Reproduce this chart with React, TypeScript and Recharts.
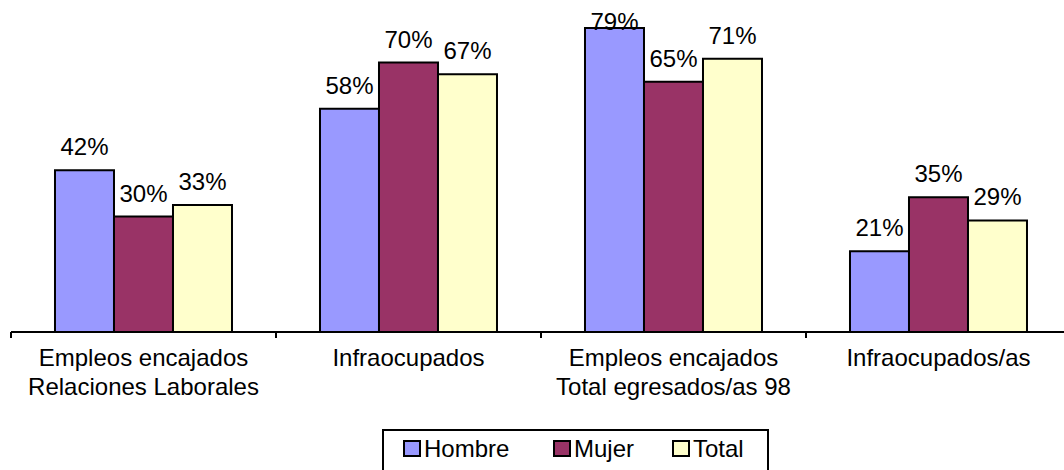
import React from "react";
import { BarChart, Bar, XAxis, YAxis } from "recharts";

const categories = [
  "Empleos encajados\nRelaciones Laborales",
  "Infraocupados",
  "Empleos encajados\nTotal egresados/as 98",
  "Infraocupados/as",
];
const seriesNames = ["Hombre", "Mujer", "Total"];
const hombre = [42, 58, 79, 21];
const mujer = [30, 70, 65, 35];
const total = [33, 67, 71, 29];

const COLORS = ["#9999FF", "#993366", "#FFFFCC"];
const FONT = "'Liberation Sans', Arial, Helvetica, sans-serif";

const data = categories.map((c, i) => ({
  category: c,
  Hombre: hombre[i],
  Mujer: mujer[i],
  Total: total[i],
}));

const CategoryTick = (props: any) => {
  const { x, y, payload, index } = props;
  const half = payload && typeof payload.offset === "number" && payload.offset > 0 ? payload.offset : 132.5;
  const lines = String(payload.value).split("\n");
  return (
    <g>
      <line x1={x - half} y1={y} x2={x - half} y2={y + 6} stroke="#000" strokeWidth={2} />
      {index === categories.length - 1 && (
        <line x1={x + half} y1={y} x2={x + half} y2={y + 6} stroke="#000" strokeWidth={2} />
      )}
      <text x={x} y={y + 34} textAnchor="middle" fontSize={24} fontFamily={FONT} fill="#000">
        {lines.map((l, i) => (
          <tspan key={i} x={x} dy={i === 0 ? 0 : 29}>
            {l}
          </tspan>
        ))}
      </text>
    </g>
  );
};

const ValueLabel = (props: any) => {
  const { x, y, width, value } = props;
  const ty = Math.max(y - 15, 30);
  return (
    <text x={x + width / 2} y={ty} textAnchor="middle" fontSize={24} fontFamily={FONT} fill="#000">
      {`${value}%`}
    </text>
  );
};

const legendSquareX = [404, 554, 673];

export default function App() {
  return (
    <div
      style={{
        position: "absolute",
        left: 0,
        top: 0,
        width: 1064,
        height: 470,
        overflow: "hidden",
        background: "#fff",
      }}
    >
      <BarChart
        width={1080}
        height={470}
        data={data}
        margin={{ top: 1, right: 9, left: 11, bottom: 0 }}
        barCategoryGap="16.6%"
        barGap={0}
      >
        <YAxis hide domain={[0, 86]} />
        <XAxis
          dataKey="category"
          height={138}
          interval={0}
          tickLine={false}
          tickSize={0}
          tickMargin={0}
          axisLine={{ stroke: "#000", strokeWidth: 2 }}
          tick={<CategoryTick />}
        />
        {seriesNames.map((s, i) => (
          <Bar
            key={s}
            dataKey={s}
            fill={COLORS[i]}
            stroke="#000"
            strokeWidth={2}
            isAnimationActive={false}
            label={<ValueLabel />}
          />
        ))}
      </BarChart>
      <svg
        width={1064}
        height={470}
        style={{ position: "absolute", left: 0, top: 0, pointerEvents: "none" }}
      >
        <rect x={383} y={430} width={385} height={44} fill="none" stroke="#000" strokeWidth={2} />
        {seriesNames.map((s, i) => (
          <g key={s}>
            <rect
              x={legendSquareX[i]}
              y={441}
              width={16}
              height={15}
              fill={COLORS[i]}
              stroke="#000"
              strokeWidth={2}
            />
            <text x={legendSquareX[i] + 20} y={457} fontSize={24} fontFamily={FONT} fill="#000">
              {s}
            </text>
          </g>
        ))}
      </svg>
    </div>
  );
}
